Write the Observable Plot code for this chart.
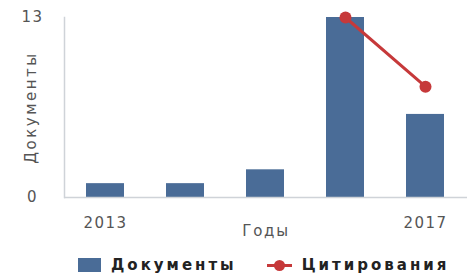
<!DOCTYPE html>
<html>
<head>
<meta charset="utf-8">
<script src="https://cdn.jsdelivr.net/npm/d3@7"></script>
<script src="https://cdn.jsdelivr.net/npm/@observablehq/plot@0.6"></script>
<style>
  body { margin: 0; background: #fff; }
  #chart { width: 467px; }
  #chart svg text { letter-spacing: 1.5px; }
  #chart svg .ylab text { letter-spacing: 2.5px; }
  #chart svg .xlab text { letter-spacing: 1.75px; }
  .legend { display: flex; align-items: center; height: 28px; padding-left: 78px; padding-top: 3px;
    font-family: "DejaVu Sans", sans-serif; font-weight: bold; font-size: 15px; letter-spacing: 3px; color: #222; }
  .sw { display: inline-block; width: 23px; height: 14px; background: #4a6c97; margin-right: 10px; }
  .ln { position: relative; display: inline-block; width: 25px; height: 14px; margin-left: 30px; margin-right: 10px; }
  .ln::before { content: ""; position: absolute; left: 0; right: 0; top: 6px; height: 3px; background: #c6393a; }
  .ln::after { content: ""; position: absolute; left: 7px; top: 2px; width: 11px; height: 11px; border-radius: 50%; background: #c6393a; }
</style>
</head>
<body>
<div id="chart"></div>
<script>
const years = ["2013", "2014", "2015", "2016", "2017"];
const documents = [1, 1, 2, 13, 6];
const citYears = ["2016", "2017"];
const citations = [13, 8];
const xTicks = ["2013", "2017"];
const yTicks = [0, 13];

const docData = years.map((y, i) => ({year: y, value: documents[i]}));
const citData = citYears.map((y, i) => ({year: y, value: citations[i]}));

const font = "DejaVu Sans, sans-serif";
const plot = Plot.plot({
  width: 467,
  height: 248,
  marginLeft: 64,
  marginRight: 0,
  marginTop: 17,
  marginBottom: 51,
  style: {fontFamily: font, fontSize: "15px", color: "#555", background: "#fff"},
  x: {domain: years, paddingInner: 0.52, paddingOuter: 0.26, label: null},
  y: {domain: [0, 13], label: null},
  marks: [
    Plot.barY(docData, {x: "year", y: "value", fill: "#4a6c97"}),
    Plot.ruleY([0], {stroke: "#cfd3d8", strokeWidth: 1.5}),
    Plot.frame({anchor: "left", stroke: "#cfd3d8", strokeWidth: 1.5}),
    Plot.line(citData, {x: "year", y: "value", stroke: "#c6393a", strokeWidth: 3}),
    Plot.dot(citData, {x: "year", y: "value", r: 6, fill: "#c6393a"}),
    Plot.axisX({ticks: xTicks, tickSize: 0, tickPadding: 20, fill: "#555", fontSize: 15}),
    Plot.axisY({ticks: yTicks, tickSize: 0, tickPadding: 32, textAnchor: "middle", fill: "#555", fontSize: 15, label: null}),
    Plot.text(["Годы"], {frameAnchor: "bottom", dy: 38, fill: "#555", fontSize: 15, className: "xlab"}),
    Plot.text(["Документы"], {frameAnchor: "left", textAnchor: "middle", dx: -33, rotate: -90, fill: "#555", fontSize: 15, className: "ylab"})
  ]
});
document.getElementById("chart").appendChild(plot);
const lg = document.createElement("div");
lg.className = "legend";
lg.innerHTML = '<span class="sw"></span><span>Документы</span><span class="ln"></span><span>Цитирования</span>';
document.getElementById("chart").appendChild(lg);
</script>
</body>
</html>
